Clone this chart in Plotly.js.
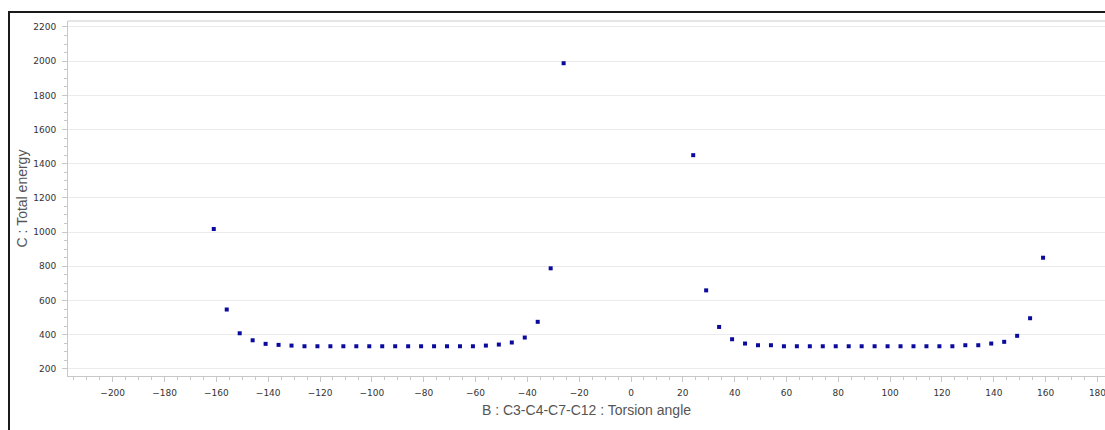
<!DOCTYPE html>
<html>
<head>
<meta charset="utf-8">
<script src="https://cdn.plot.ly/plotly-3.0.1.min.js"></script>
<style>
  html, body { margin: 0; padding: 0; background: #fff; }
  #chart { position: absolute; left: 0; top: 0; width: 1105px; height: 430px; }
  #frame { position: absolute; left: 8px; top: 11px; width: 1097px; height: 419px;
           border-left: 2px solid #1a1a1a; border-top: 2px solid #1a1a1a; pointer-events: none; box-sizing: border-box; }
</style>
</head>
<body>
<div id="chart"></div>
<div id="frame"></div>
<script>
// Torsion angle scan (degrees) and total energy
const anglesLeft = [-161,-156,-151,-146,-141,-136,-131,-126,-121,-116,-111,-106,-101,-96,-91,-86,-81,-76,-71,-66,-61,-56,-51,-46,-41,-36,-31,-26];
const energyLeft = [1018,547,408,367,346,340,336,332,332,332,332,332,332,332,332,332,332,332,332,332,332,336,342,354,383,475,788,1988];
const anglesRight = [24,29,34,39,44,49,54,59,64,69,74,79,84,89,94,99,104,109,114,119,124,129,134,139,144,149,154,159];
const energyRight = [1450,659,445,373,348,338,338,332,332,332,332,332,332,332,332,332,332,332,332,332,332,338,338,348,358,393,496,850];

const xTitle = 'B : C3-C4-C7-C12 : Torsion angle';
const yTitle = 'C : Total energy';

const angles = anglesLeft.concat(anglesRight);
const energy = energyLeft.concat(energyRight);

const axisGrey = '#c8c8c8';
const tickFont = { family: 'DejaVu Sans', size: 9, color: '#333' };

const trace = {
  x: angles, y: energy,
  type: 'scatter', mode: 'markers',
  marker: { symbol: 'square', size: 4, color: '#0a0a9c', line: { width: 0 } },
  hoverinfo: 'x+y'
};

const layout = {
  width: 1105, height: 430,
  margin: { l: 68, r: 0, t: 21, b: 54, pad: 0 },
  paper_bgcolor: '#ffffff', plot_bgcolor: '#ffffff',
  showlegend: false,
  xaxis: {
    range: [-217.25, 182.9],
    tickmode: 'linear', tick0: -200, dtick: 20,
    ticks: 'outside', ticklen: 5, tickcolor: axisGrey, tickwidth: 1,
    minor: { dtick: 5, tick0: 0, ticks: 'outside', ticklen: 3, tickcolor: axisGrey, showgrid: false },
    showgrid: false, zeroline: false,
    showline: true, linecolor: axisGrey, linewidth: 1, mirror: false,
    tickfont: tickFont,
    ticklabelstandoff: 3,
    ticklabeloverflow: 'allow',
    title: { text: xTitle, font: { family: 'Liberation Sans', size: 14, color: '#555' }, standoff: 8 }
  },
  yaxis: {
    range: [158, 2235],
    tickmode: 'linear', tick0: 200, dtick: 200,
    ticks: 'outside', ticklen: 5, tickcolor: axisGrey, tickwidth: 1,
    minor: { dtick: 50, tick0: 0, ticks: 'outside', ticklen: 3, tickcolor: axisGrey, showgrid: false },
    showgrid: true, gridcolor: '#ebebeb', gridwidth: 1,
    zeroline: false,
    showline: true, linecolor: axisGrey, linewidth: 1,
    tickfont: tickFont,
    ticklabelstandoff: 4,
    title: { text: yTitle, font: { family: 'Liberation Sans', size: 14, color: '#555' }, standoff: 2 }
  },
  shapes: [
    { type: 'line', xref: 'paper', yref: 'paper', x0: 0, x1: 1, y0: 1, y1: 1,
      line: { color: '#e6e6e6', width: 2 } }
  ]
};

Plotly.newPlot('chart', [trace], layout, { displayModeBar: false, staticPlot: true });
</script>
</body>
</html>
